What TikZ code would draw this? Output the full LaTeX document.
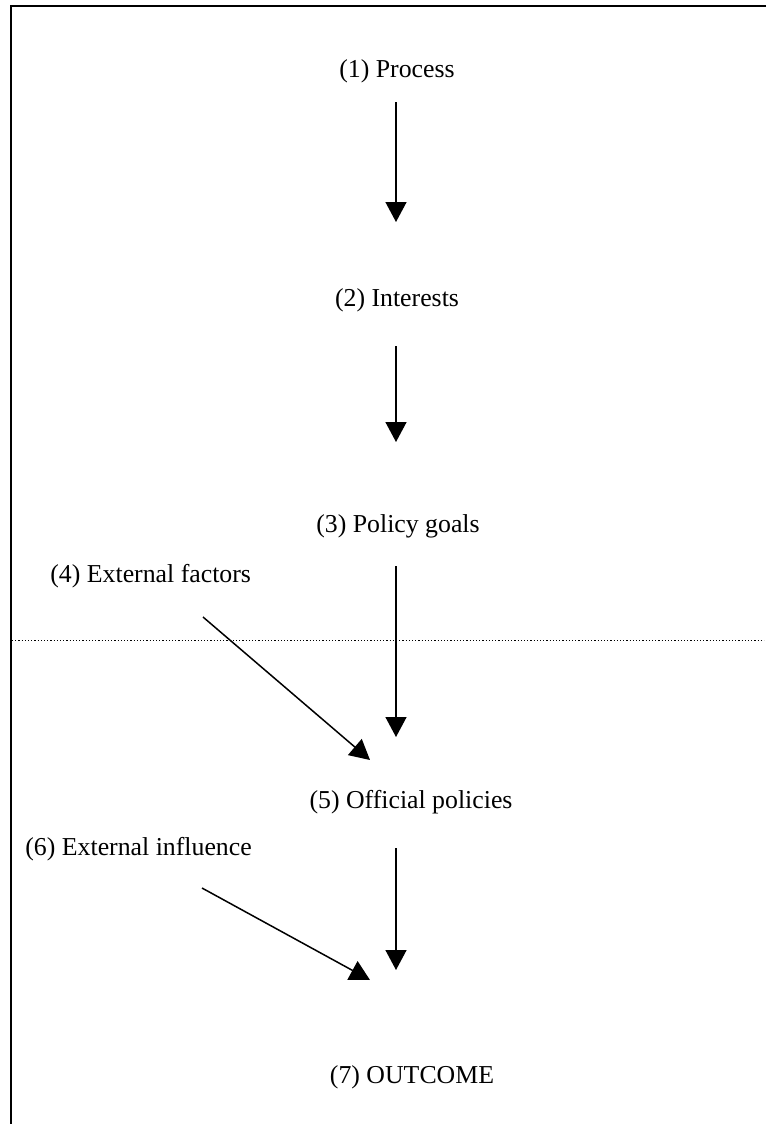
\documentclass[tikz,border=0pt]{standalone}
\usepackage{fontspec}
\setmainfont{Liberation Serif}
\usetikzlibrary{arrows.meta}
\usetikzlibrary{calc}

\begin{document}
\begin{tikzpicture}[x=0.5pt,y=-0.5pt,
    stage/.style={font=\fontsize{12.9}{15}\selectfont,inner sep=0pt,anchor=base},
    side/.style={stage,anchor=base west},
    flow/.style={line width=0.75pt,-{Triangle[width=10.5pt,length=10pt]}}]
      \useasboundingbox (0,0) rectangle (766,1124);
      % frame and divider
      \draw[line width=1pt] (766,6) -- (11,6) -- (11,1124);
      \draw[line width=0.5pt,dash pattern=on 0.6pt off 1pt] (12,640) -- (764,640);
      % stages
      \node[stage] (p1) at (397,77) {(1) Process};
      \node[stage] (p2) at (397,306) {(2) Interests};
      \node[stage] (p3) at (398,532) {(3) Policy goals};
      \node[side]  (p4) at (50,582) {(4) External factors};
      \node[stage] (p5) at (411,808) {(5) Official policies};
      \node[side]  (p6) at (25,855) {(6) External influence};
      \node[stage] (p7) at (412,1083) {(7) OUTCOME};
      % arrows
      \draw[flow] ($(p1.base)+(-1,25)$) -- ($(p2.base)+(-1,-84)$);
      \draw[flow] ($(p2.base)+(-1,40)$) -- ($(p3.base -| p2.base)+(-1,-90)$);
      \draw[flow] ($(p3.base -| p2.base)+(-1,34)$) -- ($(p5.base -| p2.base)+(-1,-71)$);
      \draw[flow] ($(p5.base -| p2.base)+(-1,40)$) -- ($(p7.base -| p2.base)+(-1,-113)$);
      \draw[flow] ($(p4.base west)+(153,35)$) -- ($(p5.base)+(-41,-48)$);
      \draw[flow] ($(p6.base west)+(177,33)$) -- ($(p7.base)+(-42,-103)$);
    \end{tikzpicture}
\end{document}
